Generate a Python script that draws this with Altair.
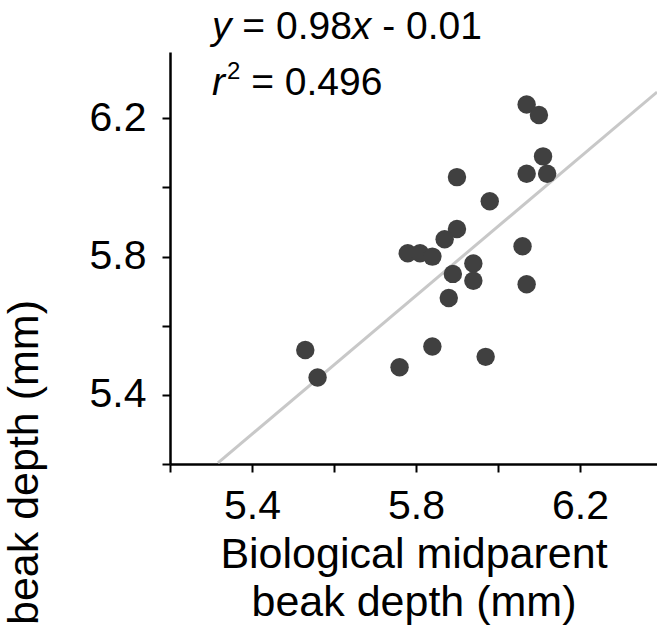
import altair as alt
import pandas as pd

# ---- data ----
parent_depth = [6.07, 6.10, 6.11, 6.07, 6.12, 5.90, 5.98, 5.90, 5.87, 5.78, 5.81, 5.84,
                6.06, 5.94, 5.89, 5.94, 6.07, 5.88, 5.53, 5.84, 5.56, 5.76, 5.97]
offspring_depth = [6.24, 6.21, 6.09, 6.04, 6.04, 6.03, 5.96, 5.88, 5.85, 5.81, 5.81, 5.80,
                   5.83, 5.78, 5.75, 5.73, 5.72, 5.68, 5.53, 5.54, 5.45, 5.48, 5.51]
fit_x = [5.317, 6.388]
fit_y = [5.203, 6.276]
tick_values = [5.2, 5.4, 5.6, 5.8, 6.0, 6.2]
eq_parts = ["y", "= 0.98", "x", "- 0.01"]
r2_parts = ["r", "2", "= 0.496"]
x_title = ["Biological midparent", "beak depth (mm)"]
y_title = "beak depth (mm)"

FONT = "Liberation Sans"
INK = "#000000"

df = pd.DataFrame({"parent": parent_depth, "offspring": offspring_depth})
fit_df = pd.DataFrame({"x": fit_x, "y": fit_y})

xscale = alt.Scale(domain=[5.2, 6.388], nice=False, zero=False)
yscale = alt.Scale(domain=[5.2, 6.392], nice=False, zero=False)

label_expr = "(round(datum.value*10) % 4 == 2) ? format(datum.value, '.1f') : ''"

common_axis = dict(
    values=tick_values, labelExpr=label_expr, grid=False,
    domainColor=INK, domainWidth=2.5, tickColor=INK, tickWidth=2, tickSize=8,
    labelFont=FONT, labelFontSize=41, labelColor=INK, labelFlush=False, labelOverlap=False,
    titleFont=FONT, titleFontSize=43, titleFontWeight="normal", titleColor=INK,
)

x_axis = alt.Axis(title=x_title, labelPadding=14, titleY=90, titleBaseline="middle",
                  titleLineHeight=48, **common_axis)
y_axis = alt.Axis(title=y_title, labelPadding=16, titleX=-146, titleY=410, titleAngle=270,
                  titleAlign="center", titleBaseline="middle", **common_axis)

line = alt.Chart(fit_df).mark_line(color="#c8c8c8", strokeWidth=3).encode(
    x=alt.X("x:Q", scale=xscale, axis=x_axis),
    y=alt.Y("y:Q", scale=yscale, axis=y_axis),
)

points = alt.Chart(df).mark_circle(size=340, color="#404040", opacity=1).encode(
    x=alt.X("parent:Q", scale=xscale, axis=x_axis),
    y=alt.Y("offspring:Q", scale=yscale, axis=y_axis),
)

EQ = 39  # font size of the equation text
SP = 0.278  # space advance (em), Arial/Liberation metrics
# advance widths (em) used only to chain the text pieces
W = {"y": 0.5, "= 0.98": 2.808, "x": 0.5, "r": 0.333}


def label(text, px, py, size=EQ, italic=False):
    d = pd.DataFrame({"t": [text]})
    return alt.Chart(d).mark_text(
        font=FONT, fontSize=size, fontStyle="italic" if italic else "normal",
        align="left", baseline="alphabetic", color=INK,
    ).encode(text="t:N", x=alt.value(px - 170), y=alt.value(py - 52))


x0 = 212
x1 = x0 + (W["y"] + SP) * EQ
x2 = x1 + W["= 0.98"] * EQ
x3 = x2 + (W["x"] + SP) * EQ
r1 = x0 + W["r"] * EQ + 2
r2 = r1 + 0.556 * 24 + SP * EQ

texts = [
    label(eq_parts[0], x0, 39, italic=True),
    label(eq_parts[1], x1, 39),
    label(eq_parts[2], x2, 39, italic=True),
    label(eq_parts[3], x3, 39),
    label(r2_parts[0], x0, 95, italic=True),
    label(r2_parts[1], r1, 79, size=24),
    label(r2_parts[2], r2, 95),
]

chart = alt.layer(line, points, *texts).properties(
    width=487, height=412,
    padding={"left": 170, "top": 52, "right": 0, "bottom": 171},
    autosize=alt.AutoSizeParams(type="none"),
    background="white",
).configure_view(stroke=None)

chart.save("out.html", embed_options={"renderer": "svg", "actions": False})
